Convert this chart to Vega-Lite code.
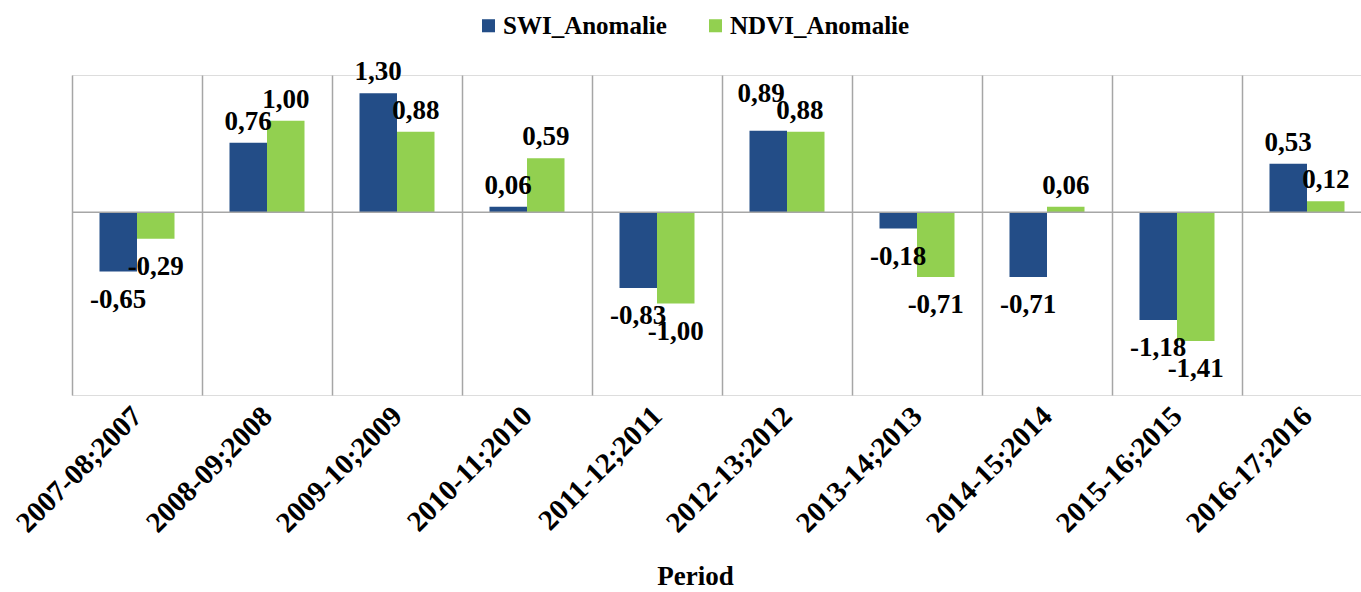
{
  "$schema": "https://vega.github.io/schema/vega-lite/v6.json",
  "width": 1300,
  "height": 320,
  "autosize": {"type": "none"},
  "padding": {"left": 72, "top": 75, "right": 0, "bottom": 197},
  "background": "white",
  "data": {
    "values": [
      {"period": "2007-08;2007", "series": "SWI_Anomalie", "value": -0.65, "label": "-0,65"},
      {"period": "2007-08;2007", "series": "NDVI_Anomalie", "value": -0.29, "label": "-0,29"},
      {"period": "2008-09;2008", "series": "SWI_Anomalie", "value": 0.76, "label": "0,76"},
      {"period": "2008-09;2008", "series": "NDVI_Anomalie", "value": 1.00, "label": "1,00"},
      {"period": "2009-10;2009", "series": "SWI_Anomalie", "value": 1.30, "label": "1,30"},
      {"period": "2009-10;2009", "series": "NDVI_Anomalie", "value": 0.88, "label": "0,88"},
      {"period": "2010-11;2010", "series": "SWI_Anomalie", "value": 0.06, "label": "0,06"},
      {"period": "2010-11;2010", "series": "NDVI_Anomalie", "value": 0.59, "label": "0,59"},
      {"period": "2011-12;2011", "series": "SWI_Anomalie", "value": -0.83, "label": "-0,83"},
      {"period": "2011-12;2011", "series": "NDVI_Anomalie", "value": -1.00, "label": "-1,00"},
      {"period": "2012-13;2012", "series": "SWI_Anomalie", "value": 0.89, "label": "0,89"},
      {"period": "2012-13;2012", "series": "NDVI_Anomalie", "value": 0.88, "label": "0,88"},
      {"period": "2013-14;2013", "series": "SWI_Anomalie", "value": -0.18, "label": "-0,18"},
      {"period": "2013-14;2013", "series": "NDVI_Anomalie", "value": -0.71, "label": "-0,71"},
      {"period": "2014-15;2014", "series": "SWI_Anomalie", "value": -0.71, "label": "-0,71"},
      {"period": "2014-15;2014", "series": "NDVI_Anomalie", "value": 0.06, "label": "0,06"},
      {"period": "2015-16;2015", "series": "SWI_Anomalie", "value": -1.18, "label": "-1,18"},
      {"period": "2015-16;2015", "series": "NDVI_Anomalie", "value": -1.41, "label": "-1,41"},
      {"period": "2016-17;2016", "series": "SWI_Anomalie", "value": 0.53, "label": "0,53"},
      {"period": "2016-17;2016", "series": "NDVI_Anomalie", "value": 0.12, "label": "0,12"}
    ]
  },
  "layer": [
    {
      "mark": {"type": "bar"},
      "encoding": {
        "x": {
          "field": "period", "type": "nominal", "sort": null,
          "scale": {"paddingInner": 0, "paddingOuter": 0},
          "axis": {
            "title": "Period",
            "grid": true, "tickBand": "extent", "gridColor": "#a6a6a6", "gridWidth": 1.5,
            "ticks": false, "domain": false,
            "labelAngle": -45, "labelAlign": "right", "labelBaseline": "middle",
            "labelPadding": 16, "labelLimit": 0,
            "labelFont": "Liberation Serif", "labelFontWeight": "bold", "labelFontSize": 29, "labelColor": "#000000",
            "titleFont": "Liberation Serif", "titleFontWeight": "bold", "titleFontSize": 27, "titleColor": "#000000",
            "titlePadding": 26, "titleX": 623
          }
        },
        "xOffset": {"field": "series", "type": "nominal", "sort": ["SWI_Anomalie", "NDVI_Anomalie"], "scale": {"paddingInner": 0, "paddingOuter": 0.733}},
        "y": {"field": "value", "type": "quantitative", "scale": {"domain": [-2, 1.5], "nice": false}, "axis": null},
        "color": {
          "field": "series", "type": "nominal",
          "scale": {"domain": ["SWI_Anomalie", "NDVI_Anomalie"], "range": ["#234d87", "#92d050"]},
          "legend": {
            "title": null, "orient": "none", "direction": "horizontal",
            "legendX": 404, "legendY": -62,
            "symbolType": "square", "symbolSize": 170, "symbolStrokeWidth": 0,
            "labelFont": "Liberation Serif", "labelFontWeight": "bold", "labelFontSize": 25, "labelColor": "#000000",
            "labelOffset": 2, "columnPadding": 36, "labelLimit": 0
          }
        }
      }
    },
    {
      "transform": [{"filter": "datum.value >= 0"}],
      "mark": {
        "type": "text",
        "dy": {"expr": "datum.period == '2012-13;2012' && datum.series == 'SWI_Anomalie' ? -37 : -21"},
        "dx": {"expr": "datum.period == '2012-13;2012' ? (datum.series == 'SWI_Anomalie' ? -7 : -6) : 0"},
        "baseline": "middle", "font": "Liberation Serif", "fontWeight": "bold", "fontSize": 27, "color": "#000000"
      },
      "encoding": {
        "x": {"field": "period", "type": "nominal", "sort": null},
        "xOffset": {"field": "series", "type": "nominal", "sort": ["SWI_Anomalie", "NDVI_Anomalie"]},
        "y": {"field": "value", "type": "quantitative"},
        "text": {"field": "label"}
      }
    },
    {
      "transform": [{"filter": "datum.value < 0"}],
      "mark": {"type": "text", "dy": 28, "baseline": "middle", "font": "Liberation Serif", "fontWeight": "bold", "fontSize": 27, "color": "#000000"},
      "encoding": {
        "x": {"field": "period", "type": "nominal", "sort": null},
        "xOffset": {"field": "series", "type": "nominal", "sort": ["SWI_Anomalie", "NDVI_Anomalie"]},
        "y": {"field": "value", "type": "quantitative"},
        "text": {"field": "label"}
      }
    },
    {
      "data": {"values": [{}]},
      "mark": {"type": "rule", "color": "#a6a6a6", "strokeWidth": 1.5},
      "encoding": {"y": {"datum": 0}}
    }
  ]
}
